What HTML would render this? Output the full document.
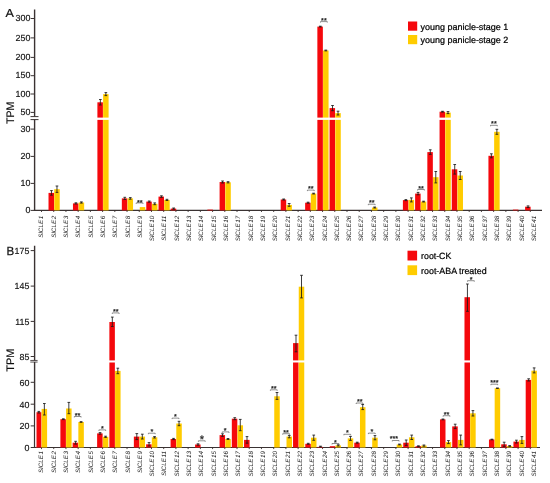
<!DOCTYPE html>
<html><head><meta charset="utf-8"><title>Figure</title>
<style>html,body{margin:0;padding:0;background:#fff}svg{display:block;font-family:"Liberation Sans",sans-serif;text-rendering:geometricPrecision}</style>
</head><body>
<svg width="550" height="483" viewBox="0 0 550 483">
<rect width="550" height="483" fill="#fff"/>
<path d="M34.6 9.5V116.6M34.6 119.6V210.9" stroke="#3a3232" stroke-width="1.4" fill="none"/>
<path d="M30.5 116.6H38.5M30.5 119.6H38.5" stroke="#3a3232" stroke-width="1" fill="none"/>
<path d="M33.8 210.4H542" stroke="#3a3232" stroke-width="1.1" fill="none"/>
<path d="M30.7 18.5H34" stroke="#3a3232" stroke-width="1"/>
<text x="30.4" y="21.1" font-size="8.9" text-anchor="end" fill="#111" stroke="#111" stroke-width="0.15">300</text>
<path d="M30.7 37.9H34" stroke="#3a3232" stroke-width="1"/>
<text x="30.4" y="40.5" font-size="8.9" text-anchor="end" fill="#111" stroke="#111" stroke-width="0.15">250</text>
<path d="M30.7 57.4H34" stroke="#3a3232" stroke-width="1"/>
<text x="30.4" y="60.0" font-size="8.9" text-anchor="end" fill="#111" stroke="#111" stroke-width="0.15">200</text>
<path d="M30.7 75.7H34" stroke="#3a3232" stroke-width="1"/>
<text x="30.4" y="78.3" font-size="8.9" text-anchor="end" fill="#111" stroke="#111" stroke-width="0.15">150</text>
<path d="M30.7 94.0H34" stroke="#3a3232" stroke-width="1"/>
<text x="30.4" y="96.6" font-size="8.9" text-anchor="end" fill="#111" stroke="#111" stroke-width="0.15">100</text>
<path d="M30.7 112.4H34" stroke="#3a3232" stroke-width="1"/>
<text x="30.4" y="115.0" font-size="8.9" text-anchor="end" fill="#111" stroke="#111" stroke-width="0.15">50</text>
<path d="M30.7 129.1H34" stroke="#3a3232" stroke-width="1"/>
<text x="30.4" y="131.7" font-size="8.9" text-anchor="end" fill="#111" stroke="#111" stroke-width="0.15">30</text>
<path d="M30.7 156.4H34" stroke="#3a3232" stroke-width="1"/>
<text x="30.4" y="159.0" font-size="8.9" text-anchor="end" fill="#111" stroke="#111" stroke-width="0.15">20</text>
<path d="M30.7 183.4H34" stroke="#3a3232" stroke-width="1"/>
<text x="30.4" y="186.0" font-size="8.9" text-anchor="end" fill="#111" stroke="#111" stroke-width="0.15">10</text>
<path d="M30.7 210.4H34" stroke="#3a3232" stroke-width="1"/>
<text x="30.4" y="213.0" font-size="8.9" text-anchor="end" fill="#111" stroke="#111" stroke-width="0.15">0</text>
<path d="M41.50 210.4V212.0" stroke="#3a3232" stroke-width="0.9"/>
<path d="M53.72 210.4V212.0" stroke="#3a3232" stroke-width="0.9"/>
<path d="M65.94 210.4V212.0" stroke="#3a3232" stroke-width="0.9"/>
<path d="M78.16 210.4V212.0" stroke="#3a3232" stroke-width="0.9"/>
<path d="M90.38 210.4V212.0" stroke="#3a3232" stroke-width="0.9"/>
<path d="M102.60 210.4V212.0" stroke="#3a3232" stroke-width="0.9"/>
<path d="M114.82 210.4V212.0" stroke="#3a3232" stroke-width="0.9"/>
<path d="M127.04 210.4V212.0" stroke="#3a3232" stroke-width="0.9"/>
<path d="M139.26 210.4V212.0" stroke="#3a3232" stroke-width="0.9"/>
<path d="M151.48 210.4V212.0" stroke="#3a3232" stroke-width="0.9"/>
<path d="M163.70 210.4V212.0" stroke="#3a3232" stroke-width="0.9"/>
<path d="M175.92 210.4V212.0" stroke="#3a3232" stroke-width="0.9"/>
<path d="M188.14 210.4V212.0" stroke="#3a3232" stroke-width="0.9"/>
<path d="M200.36 210.4V212.0" stroke="#3a3232" stroke-width="0.9"/>
<path d="M212.58 210.4V212.0" stroke="#3a3232" stroke-width="0.9"/>
<path d="M224.80 210.4V212.0" stroke="#3a3232" stroke-width="0.9"/>
<path d="M237.02 210.4V212.0" stroke="#3a3232" stroke-width="0.9"/>
<path d="M249.24 210.4V212.0" stroke="#3a3232" stroke-width="0.9"/>
<path d="M261.46 210.4V212.0" stroke="#3a3232" stroke-width="0.9"/>
<path d="M273.68 210.4V212.0" stroke="#3a3232" stroke-width="0.9"/>
<path d="M285.90 210.4V212.0" stroke="#3a3232" stroke-width="0.9"/>
<path d="M298.12 210.4V212.0" stroke="#3a3232" stroke-width="0.9"/>
<path d="M310.34 210.4V212.0" stroke="#3a3232" stroke-width="0.9"/>
<path d="M322.56 210.4V212.0" stroke="#3a3232" stroke-width="0.9"/>
<path d="M334.78 210.4V212.0" stroke="#3a3232" stroke-width="0.9"/>
<path d="M347.00 210.4V212.0" stroke="#3a3232" stroke-width="0.9"/>
<path d="M359.22 210.4V212.0" stroke="#3a3232" stroke-width="0.9"/>
<path d="M371.44 210.4V212.0" stroke="#3a3232" stroke-width="0.9"/>
<path d="M383.66 210.4V212.0" stroke="#3a3232" stroke-width="0.9"/>
<path d="M395.88 210.4V212.0" stroke="#3a3232" stroke-width="0.9"/>
<path d="M408.10 210.4V212.0" stroke="#3a3232" stroke-width="0.9"/>
<path d="M420.32 210.4V212.0" stroke="#3a3232" stroke-width="0.9"/>
<path d="M432.54 210.4V212.0" stroke="#3a3232" stroke-width="0.9"/>
<path d="M444.76 210.4V212.0" stroke="#3a3232" stroke-width="0.9"/>
<path d="M456.98 210.4V212.0" stroke="#3a3232" stroke-width="0.9"/>
<path d="M469.20 210.4V212.0" stroke="#3a3232" stroke-width="0.9"/>
<path d="M481.42 210.4V212.0" stroke="#3a3232" stroke-width="0.9"/>
<path d="M493.64 210.4V212.0" stroke="#3a3232" stroke-width="0.9"/>
<path d="M505.86 210.4V212.0" stroke="#3a3232" stroke-width="0.9"/>
<path d="M518.08 210.4V212.0" stroke="#3a3232" stroke-width="0.9"/>
<path d="M530.30 210.4V212.0" stroke="#3a3232" stroke-width="0.9"/>
<rect x="48.52" y="192.90" width="5.5" height="17.50" fill="#f5080c"/>
<rect x="54.22" y="189.20" width="5.5" height="21.20" fill="#ffcc00"/>
<rect x="72.96" y="203.40" width="5.5" height="7.00" fill="#f5080c"/>
<rect x="78.66" y="202.50" width="5.5" height="7.90" fill="#ffcc00"/>
<rect x="97.40" y="102.30" width="5.5" height="15.30" fill="#f5080c"/>
<rect x="97.40" y="119.90" width="5.5" height="90.50" fill="#f5080c"/>
<rect x="103.10" y="94.10" width="5.5" height="23.50" fill="#ffcc00"/>
<rect x="103.10" y="119.90" width="5.5" height="90.50" fill="#ffcc00"/>
<rect x="121.84" y="198.40" width="5.5" height="12.00" fill="#f5080c"/>
<rect x="127.54" y="198.40" width="5.5" height="12.00" fill="#ffcc00"/>
<rect x="139.76" y="207.10" width="5.5" height="3.30" fill="#ffcc00"/>
<rect x="146.28" y="201.60" width="5.5" height="8.80" fill="#f5080c"/>
<rect x="151.98" y="203.80" width="5.5" height="6.60" fill="#ffcc00"/>
<rect x="158.50" y="196.60" width="5.5" height="13.80" fill="#f5080c"/>
<rect x="164.20" y="199.90" width="5.5" height="10.50" fill="#ffcc00"/>
<rect x="170.72" y="208.60" width="5.5" height="1.80" fill="#f5080c"/>
<rect x="207.38" y="209.60" width="5.5" height="0.80" fill="#f5080c"/>
<rect x="219.60" y="182.00" width="5.5" height="28.40" fill="#f5080c"/>
<rect x="225.30" y="182.30" width="5.5" height="28.10" fill="#ffcc00"/>
<rect x="280.70" y="199.50" width="5.5" height="10.90" fill="#f5080c"/>
<rect x="286.40" y="204.90" width="5.5" height="5.50" fill="#ffcc00"/>
<rect x="305.14" y="202.70" width="5.5" height="7.70" fill="#f5080c"/>
<rect x="310.84" y="193.60" width="5.5" height="16.80" fill="#ffcc00"/>
<rect x="317.36" y="26.60" width="5.5" height="91.00" fill="#f5080c"/>
<rect x="317.36" y="119.90" width="5.5" height="90.50" fill="#f5080c"/>
<rect x="323.06" y="50.50" width="5.5" height="67.10" fill="#ffcc00"/>
<rect x="323.06" y="119.90" width="5.5" height="90.50" fill="#ffcc00"/>
<rect x="329.58" y="108.10" width="5.5" height="9.50" fill="#f5080c"/>
<rect x="329.58" y="119.90" width="5.5" height="90.50" fill="#f5080c"/>
<rect x="335.28" y="113.10" width="5.5" height="4.50" fill="#ffcc00"/>
<rect x="335.28" y="119.90" width="5.5" height="90.50" fill="#ffcc00"/>
<rect x="371.94" y="207.50" width="5.5" height="2.90" fill="#ffcc00"/>
<rect x="402.90" y="200.10" width="5.5" height="10.30" fill="#f5080c"/>
<rect x="408.60" y="199.90" width="5.5" height="10.50" fill="#ffcc00"/>
<rect x="415.12" y="193.60" width="5.5" height="16.80" fill="#f5080c"/>
<rect x="420.82" y="201.60" width="5.5" height="8.80" fill="#ffcc00"/>
<rect x="427.34" y="152.10" width="5.5" height="58.30" fill="#f5080c"/>
<rect x="433.04" y="177.20" width="5.5" height="33.20" fill="#ffcc00"/>
<rect x="439.56" y="111.70" width="5.5" height="5.90" fill="#f5080c"/>
<rect x="439.56" y="119.90" width="5.5" height="90.50" fill="#f5080c"/>
<rect x="445.26" y="112.60" width="5.5" height="5.00" fill="#ffcc00"/>
<rect x="445.26" y="119.90" width="5.5" height="90.50" fill="#ffcc00"/>
<rect x="451.78" y="169.30" width="5.5" height="41.10" fill="#f5080c"/>
<rect x="457.48" y="175.50" width="5.5" height="34.90" fill="#ffcc00"/>
<rect x="488.44" y="155.80" width="5.5" height="54.60" fill="#f5080c"/>
<rect x="494.14" y="131.80" width="5.5" height="78.60" fill="#ffcc00"/>
<rect x="512.88" y="209.60" width="5.5" height="0.80" fill="#f5080c"/>
<rect x="525.10" y="206.70" width="5.5" height="3.70" fill="#f5080c"/>
<path d="M51.47 190.60V195.20M50.12 190.60H52.82M50.12 195.20H52.82" stroke="#1a1a1a" stroke-width="0.85" fill="none"/>
<path d="M56.97 186.00V192.40M55.62 186.00H58.32M55.62 192.40H58.32" stroke="#1a1a1a" stroke-width="0.85" fill="none"/>
<path d="M75.91 202.80V204.00M74.56 202.80H77.26M74.56 204.00H77.26" stroke="#1a1a1a" stroke-width="0.85" fill="none"/>
<path d="M81.41 201.90V203.10M80.06 201.90H82.76M80.06 203.10H82.76" stroke="#1a1a1a" stroke-width="0.85" fill="none"/>
<path d="M100.35 99.50V105.00M99.00 99.50H101.70M99.00 105.00H101.70" stroke="#1a1a1a" stroke-width="0.85" fill="none"/>
<path d="M105.85 92.60V95.60M104.50 92.60H107.20M104.50 95.60H107.20" stroke="#1a1a1a" stroke-width="0.85" fill="none"/>
<path d="M124.79 197.30V199.50M123.44 197.30H126.14M123.44 199.50H126.14" stroke="#1a1a1a" stroke-width="0.85" fill="none"/>
<path d="M130.29 197.60V199.20M128.94 197.60H131.64M128.94 199.20H131.64" stroke="#1a1a1a" stroke-width="0.85" fill="none"/>
<path d="M149.23 201.00V202.20M147.88 201.00H150.58M147.88 202.20H150.58" stroke="#1a1a1a" stroke-width="0.85" fill="none"/>
<path d="M154.73 202.90V204.70M153.38 202.90H156.08M153.38 204.70H156.08" stroke="#1a1a1a" stroke-width="0.85" fill="none"/>
<path d="M161.45 195.80V197.40M160.10 195.80H162.80M160.10 197.40H162.80" stroke="#1a1a1a" stroke-width="0.85" fill="none"/>
<path d="M166.95 199.30V200.50M165.60 199.30H168.30M165.60 200.50H168.30" stroke="#1a1a1a" stroke-width="0.85" fill="none"/>
<path d="M173.67 208.00V209.20M172.32 208.00H175.02M172.32 209.20H175.02" stroke="#1a1a1a" stroke-width="0.85" fill="none"/>
<path d="M222.55 181.00V183.00M221.20 181.00H223.90M221.20 183.00H223.90" stroke="#1a1a1a" stroke-width="0.85" fill="none"/>
<path d="M228.05 181.70V182.90M226.70 181.70H229.40M226.70 182.90H229.40" stroke="#1a1a1a" stroke-width="0.85" fill="none"/>
<path d="M283.65 199.00V200.00M282.30 199.00H285.00M282.30 200.00H285.00" stroke="#1a1a1a" stroke-width="0.85" fill="none"/>
<path d="M289.15 203.50V206.30M287.80 203.50H290.50M287.80 206.30H290.50" stroke="#1a1a1a" stroke-width="0.85" fill="none"/>
<path d="M308.09 202.20V203.20M306.74 202.20H309.44M306.74 203.20H309.44" stroke="#1a1a1a" stroke-width="0.85" fill="none"/>
<path d="M313.59 193.20V194.00M312.24 193.20H314.94M312.24 194.00H314.94" stroke="#1a1a1a" stroke-width="0.85" fill="none"/>
<path d="M320.31 26.20V27.00M318.96 26.20H321.66M318.96 27.00H321.66" stroke="#1a1a1a" stroke-width="0.85" fill="none"/>
<path d="M325.81 50.10V50.90M324.46 50.10H327.16M324.46 50.90H327.16" stroke="#1a1a1a" stroke-width="0.85" fill="none"/>
<path d="M332.53 105.50V110.70M331.18 105.50H333.88M331.18 110.70H333.88" stroke="#1a1a1a" stroke-width="0.85" fill="none"/>
<path d="M338.03 111.20V115.00M336.68 111.20H339.38M336.68 115.00H339.38" stroke="#1a1a1a" stroke-width="0.85" fill="none"/>
<path d="M374.69 207.00V208.00M373.34 207.00H376.04M373.34 208.00H376.04" stroke="#1a1a1a" stroke-width="0.85" fill="none"/>
<path d="M405.85 199.60V200.60M404.50 199.60H407.20M404.50 200.60H407.20" stroke="#1a1a1a" stroke-width="0.85" fill="none"/>
<path d="M411.35 197.90V201.90M410.00 197.90H412.70M410.00 201.90H412.70" stroke="#1a1a1a" stroke-width="0.85" fill="none"/>
<path d="M418.07 192.40V194.80M416.72 192.40H419.42M416.72 194.80H419.42" stroke="#1a1a1a" stroke-width="0.85" fill="none"/>
<path d="M423.57 201.20V202.00M422.22 201.20H424.92M422.22 202.00H424.92" stroke="#1a1a1a" stroke-width="0.85" fill="none"/>
<path d="M430.29 149.80V154.40M428.94 149.80H431.64M428.94 154.40H431.64" stroke="#1a1a1a" stroke-width="0.85" fill="none"/>
<path d="M435.79 171.50V182.90M434.44 171.50H437.14M434.44 182.90H437.14" stroke="#1a1a1a" stroke-width="0.85" fill="none"/>
<path d="M442.51 111.30V112.10M441.16 111.30H443.86M441.16 112.10H443.86" stroke="#1a1a1a" stroke-width="0.85" fill="none"/>
<path d="M448.01 111.60V113.60M446.66 111.60H449.36M446.66 113.60H449.36" stroke="#1a1a1a" stroke-width="0.85" fill="none"/>
<path d="M454.73 164.50V174.10M453.38 164.50H456.08M453.38 174.10H456.08" stroke="#1a1a1a" stroke-width="0.85" fill="none"/>
<path d="M460.23 171.50V179.50M458.88 171.50H461.58M458.88 179.50H461.58" stroke="#1a1a1a" stroke-width="0.85" fill="none"/>
<path d="M491.39 153.80V157.80M490.04 153.80H492.74M490.04 157.80H492.74" stroke="#1a1a1a" stroke-width="0.85" fill="none"/>
<path d="M496.89 129.30V134.30M495.54 129.30H498.24M495.54 134.30H498.24" stroke="#1a1a1a" stroke-width="0.85" fill="none"/>
<path d="M528.05 205.90V207.50M526.70 205.90H529.40M526.70 207.50H529.40" stroke="#1a1a1a" stroke-width="0.85" fill="none"/>
<path d="M136.20 203.90V202.90H143.00V203.90" stroke="#444" stroke-width="0.6" fill="none"/>
<text x="139.80" y="204.58" font-size="7.2" text-anchor="middle" fill="#222" stroke="#222" stroke-width="0.25">**</text>
<path d="M307.40 191.10V190.10H314.20V191.10" stroke="#444" stroke-width="0.6" fill="none"/>
<text x="310.80" y="191.38" font-size="7.2" text-anchor="middle" fill="#222" stroke="#222" stroke-width="0.25">**</text>
<path d="M320.50 22.60V21.60H327.30V22.60" stroke="#444" stroke-width="0.6" fill="none"/>
<text x="323.90" y="22.78" font-size="7.2" text-anchor="middle" fill="#222" stroke="#222" stroke-width="0.25">**</text>
<path d="M368.30 205.20V204.20H375.10V205.20" stroke="#444" stroke-width="0.6" fill="none"/>
<text x="371.70" y="205.38" font-size="7.2" text-anchor="middle" fill="#222" stroke="#222" stroke-width="0.25">**</text>
<path d="M417.60 190.50V189.50H424.40V190.50" stroke="#444" stroke-width="0.6" fill="none"/>
<text x="421.00" y="190.68" font-size="7.2" text-anchor="middle" fill="#222" stroke="#222" stroke-width="0.25">**</text>
<path d="M490.50 126.30V125.30H497.30V126.30" stroke="#444" stroke-width="0.6" fill="none"/>
<text x="493.90" y="126.18" font-size="7.2" text-anchor="middle" fill="#222" stroke="#222" stroke-width="0.25">**</text>
<text transform="translate(43.30 215.7) rotate(-90)" font-size="6.3" font-style="italic" text-anchor="end" fill="#222">SlCLE<tspan dx="0.7">1</tspan></text>
<text transform="translate(55.61 215.7) rotate(-90)" font-size="6.3" font-style="italic" text-anchor="end" fill="#222">SlCLE<tspan dx="0.7">2</tspan></text>
<text transform="translate(67.93 215.7) rotate(-90)" font-size="6.3" font-style="italic" text-anchor="end" fill="#222">SlCLE<tspan dx="0.7">3</tspan></text>
<text transform="translate(80.25 215.7) rotate(-90)" font-size="6.3" font-style="italic" text-anchor="end" fill="#222">SlCLE<tspan dx="0.7">4</tspan></text>
<text transform="translate(92.56 215.7) rotate(-90)" font-size="6.3" font-style="italic" text-anchor="end" fill="#222">SlCLE<tspan dx="0.7">5</tspan></text>
<text transform="translate(104.88 215.7) rotate(-90)" font-size="6.3" font-style="italic" text-anchor="end" fill="#222">SlCLE<tspan dx="0.7">6</tspan></text>
<text transform="translate(117.19 215.7) rotate(-90)" font-size="6.3" font-style="italic" text-anchor="end" fill="#222">SlCLE<tspan dx="0.7">7</tspan></text>
<text transform="translate(129.50 215.7) rotate(-90)" font-size="6.3" font-style="italic" text-anchor="end" fill="#222">SlCLE<tspan dx="0.7">8</tspan></text>
<text transform="translate(141.82 215.7) rotate(-90)" font-size="6.3" font-style="italic" text-anchor="end" fill="#222">SlCLE<tspan dx="0.7">9</tspan></text>
<text transform="translate(154.13 215.7) rotate(-90)" font-size="6.3" font-style="italic" text-anchor="end" fill="#222">SlCLE<tspan dx="0.7">10</tspan></text>
<text transform="translate(166.45 215.7) rotate(-90)" font-size="6.3" font-style="italic" text-anchor="end" fill="#222">SlCLE<tspan dx="0.7">11</tspan></text>
<text transform="translate(178.76 215.7) rotate(-90)" font-size="6.3" font-style="italic" text-anchor="end" fill="#222">SlCLE<tspan dx="0.7">12</tspan></text>
<text transform="translate(191.08 215.7) rotate(-90)" font-size="6.3" font-style="italic" text-anchor="end" fill="#222">SlCLE<tspan dx="0.7">13</tspan></text>
<text transform="translate(203.39 215.7) rotate(-90)" font-size="6.3" font-style="italic" text-anchor="end" fill="#222">SlCLE<tspan dx="0.7">14</tspan></text>
<text transform="translate(215.71 215.7) rotate(-90)" font-size="6.3" font-style="italic" text-anchor="end" fill="#222">SlCLE<tspan dx="0.7">15</tspan></text>
<text transform="translate(228.02 215.7) rotate(-90)" font-size="6.3" font-style="italic" text-anchor="end" fill="#222">SlCLE<tspan dx="0.7">16</tspan></text>
<text transform="translate(240.34 215.7) rotate(-90)" font-size="6.3" font-style="italic" text-anchor="end" fill="#222">SlCLE<tspan dx="0.7">17</tspan></text>
<text transform="translate(252.65 215.7) rotate(-90)" font-size="6.3" font-style="italic" text-anchor="end" fill="#222">SlCLE<tspan dx="0.7">18</tspan></text>
<text transform="translate(264.97 215.7) rotate(-90)" font-size="6.3" font-style="italic" text-anchor="end" fill="#222">SlCLE<tspan dx="0.7">19</tspan></text>
<text transform="translate(277.28 215.7) rotate(-90)" font-size="6.3" font-style="italic" text-anchor="end" fill="#222">SlCLE<tspan dx="0.7">20</tspan></text>
<text transform="translate(289.60 215.7) rotate(-90)" font-size="6.3" font-style="italic" text-anchor="end" fill="#222">SlCLE<tspan dx="0.7">21</tspan></text>
<text transform="translate(301.92 215.7) rotate(-90)" font-size="6.3" font-style="italic" text-anchor="end" fill="#222">SlCLE<tspan dx="0.7">22</tspan></text>
<text transform="translate(314.23 215.7) rotate(-90)" font-size="6.3" font-style="italic" text-anchor="end" fill="#222">SlCLE<tspan dx="0.7">23</tspan></text>
<text transform="translate(326.55 215.7) rotate(-90)" font-size="6.3" font-style="italic" text-anchor="end" fill="#222">SlCLE<tspan dx="0.7">24</tspan></text>
<text transform="translate(338.86 215.7) rotate(-90)" font-size="6.3" font-style="italic" text-anchor="end" fill="#222">SlCLE<tspan dx="0.7">25</tspan></text>
<text transform="translate(351.18 215.7) rotate(-90)" font-size="6.3" font-style="italic" text-anchor="end" fill="#222">SlCLE<tspan dx="0.7">26</tspan></text>
<text transform="translate(363.49 215.7) rotate(-90)" font-size="6.3" font-style="italic" text-anchor="end" fill="#222">SlCLE<tspan dx="0.7">27</tspan></text>
<text transform="translate(375.81 215.7) rotate(-90)" font-size="6.3" font-style="italic" text-anchor="end" fill="#222">SlCLE<tspan dx="0.7">28</tspan></text>
<text transform="translate(388.12 215.7) rotate(-90)" font-size="6.3" font-style="italic" text-anchor="end" fill="#222">SlCLE<tspan dx="0.7">29</tspan></text>
<text transform="translate(400.44 215.7) rotate(-90)" font-size="6.3" font-style="italic" text-anchor="end" fill="#222">SlCLE<tspan dx="0.7">30</tspan></text>
<text transform="translate(412.75 215.7) rotate(-90)" font-size="6.3" font-style="italic" text-anchor="end" fill="#222">SlCLE<tspan dx="0.7">31</tspan></text>
<text transform="translate(425.06 215.7) rotate(-90)" font-size="6.3" font-style="italic" text-anchor="end" fill="#222">SlCLE<tspan dx="0.7">32</tspan></text>
<text transform="translate(437.38 215.7) rotate(-90)" font-size="6.3" font-style="italic" text-anchor="end" fill="#222">SlCLE<tspan dx="0.7">33</tspan></text>
<text transform="translate(449.69 215.7) rotate(-90)" font-size="6.3" font-style="italic" text-anchor="end" fill="#222">SlCLE<tspan dx="0.7">34</tspan></text>
<text transform="translate(462.01 215.7) rotate(-90)" font-size="6.3" font-style="italic" text-anchor="end" fill="#222">SlCLE<tspan dx="0.7">35</tspan></text>
<text transform="translate(474.32 215.7) rotate(-90)" font-size="6.3" font-style="italic" text-anchor="end" fill="#222">SlCLE<tspan dx="0.7">36</tspan></text>
<text transform="translate(486.64 215.7) rotate(-90)" font-size="6.3" font-style="italic" text-anchor="end" fill="#222">SlCLE<tspan dx="0.7">37</tspan></text>
<text transform="translate(498.95 215.7) rotate(-90)" font-size="6.3" font-style="italic" text-anchor="end" fill="#222">SlCLE<tspan dx="0.7">38</tspan></text>
<text transform="translate(511.27 215.7) rotate(-90)" font-size="6.3" font-style="italic" text-anchor="end" fill="#222">SlCLE<tspan dx="0.7">39</tspan></text>
<text transform="translate(523.58 215.7) rotate(-90)" font-size="6.3" font-style="italic" text-anchor="end" fill="#222">SlCLE<tspan dx="0.7">40</tspan></text>
<text transform="translate(535.90 215.7) rotate(-90)" font-size="6.3" font-style="italic" text-anchor="end" fill="#222">SlCLE<tspan dx="0.7">41</tspan></text>
<path d="M34.6 245.7V360.45M34.6 362.05V448.0" stroke="#3a3232" stroke-width="1.4" fill="none"/>
<path d="M30.3 360.45H37.6M30.3 362.05H37.6" stroke="#3a3232" stroke-width="0.85" fill="none"/>
<path d="M33.8 447.5H540" stroke="#3a3232" stroke-width="1.1" fill="none"/>
<path d="M30.7 250.6H34" stroke="#3a3232" stroke-width="1"/>
<text x="29.4" y="253.9" font-size="8.9" text-anchor="end" fill="#111" stroke="#111" stroke-width="0.15">175</text>
<path d="M30.7 286.1H34" stroke="#3a3232" stroke-width="1"/>
<text x="29.4" y="289.4" font-size="8.9" text-anchor="end" fill="#111" stroke="#111" stroke-width="0.15">145</text>
<path d="M30.7 321.4H34" stroke="#3a3232" stroke-width="1"/>
<text x="29.4" y="324.7" font-size="8.9" text-anchor="end" fill="#111" stroke="#111" stroke-width="0.15">115</text>
<path d="M30.7 356.5H34" stroke="#3a3232" stroke-width="1"/>
<text x="29.4" y="359.8" font-size="8.9" text-anchor="end" fill="#111" stroke="#111" stroke-width="0.15">85</text>
<path d="M30.7 382.3H34" stroke="#3a3232" stroke-width="1"/>
<text x="29.4" y="385.6" font-size="8.9" text-anchor="end" fill="#111" stroke="#111" stroke-width="0.15">60</text>
<path d="M30.7 404.2H34" stroke="#3a3232" stroke-width="1"/>
<text x="29.4" y="407.5" font-size="8.9" text-anchor="end" fill="#111" stroke="#111" stroke-width="0.15">40</text>
<path d="M30.7 425.9H34" stroke="#3a3232" stroke-width="1"/>
<text x="29.4" y="429.2" font-size="8.9" text-anchor="end" fill="#111" stroke="#111" stroke-width="0.15">20</text>
<path d="M30.7 447.5H34" stroke="#3a3232" stroke-width="1"/>
<text x="29.4" y="450.8" font-size="8.9" text-anchor="end" fill="#111" stroke="#111" stroke-width="0.15">0</text>
<path d="M41.50 447.5V449.1" stroke="#3a3232" stroke-width="0.9"/>
<path d="M53.72 447.5V449.1" stroke="#3a3232" stroke-width="0.9"/>
<path d="M65.94 447.5V449.1" stroke="#3a3232" stroke-width="0.9"/>
<path d="M78.16 447.5V449.1" stroke="#3a3232" stroke-width="0.9"/>
<path d="M90.38 447.5V449.1" stroke="#3a3232" stroke-width="0.9"/>
<path d="M102.60 447.5V449.1" stroke="#3a3232" stroke-width="0.9"/>
<path d="M114.82 447.5V449.1" stroke="#3a3232" stroke-width="0.9"/>
<path d="M127.04 447.5V449.1" stroke="#3a3232" stroke-width="0.9"/>
<path d="M139.26 447.5V449.1" stroke="#3a3232" stroke-width="0.9"/>
<path d="M151.48 447.5V449.1" stroke="#3a3232" stroke-width="0.9"/>
<path d="M163.70 447.5V449.1" stroke="#3a3232" stroke-width="0.9"/>
<path d="M175.92 447.5V449.1" stroke="#3a3232" stroke-width="0.9"/>
<path d="M188.14 447.5V449.1" stroke="#3a3232" stroke-width="0.9"/>
<path d="M200.36 447.5V449.1" stroke="#3a3232" stroke-width="0.9"/>
<path d="M212.58 447.5V449.1" stroke="#3a3232" stroke-width="0.9"/>
<path d="M224.80 447.5V449.1" stroke="#3a3232" stroke-width="0.9"/>
<path d="M237.02 447.5V449.1" stroke="#3a3232" stroke-width="0.9"/>
<path d="M249.24 447.5V449.1" stroke="#3a3232" stroke-width="0.9"/>
<path d="M261.46 447.5V449.1" stroke="#3a3232" stroke-width="0.9"/>
<path d="M273.68 447.5V449.1" stroke="#3a3232" stroke-width="0.9"/>
<path d="M285.90 447.5V449.1" stroke="#3a3232" stroke-width="0.9"/>
<path d="M298.12 447.5V449.1" stroke="#3a3232" stroke-width="0.9"/>
<path d="M310.34 447.5V449.1" stroke="#3a3232" stroke-width="0.9"/>
<path d="M322.56 447.5V449.1" stroke="#3a3232" stroke-width="0.9"/>
<path d="M334.78 447.5V449.1" stroke="#3a3232" stroke-width="0.9"/>
<path d="M347.00 447.5V449.1" stroke="#3a3232" stroke-width="0.9"/>
<path d="M359.22 447.5V449.1" stroke="#3a3232" stroke-width="0.9"/>
<path d="M371.44 447.5V449.1" stroke="#3a3232" stroke-width="0.9"/>
<path d="M383.66 447.5V449.1" stroke="#3a3232" stroke-width="0.9"/>
<path d="M395.88 447.5V449.1" stroke="#3a3232" stroke-width="0.9"/>
<path d="M408.10 447.5V449.1" stroke="#3a3232" stroke-width="0.9"/>
<path d="M420.32 447.5V449.1" stroke="#3a3232" stroke-width="0.9"/>
<path d="M432.54 447.5V449.1" stroke="#3a3232" stroke-width="0.9"/>
<path d="M444.76 447.5V449.1" stroke="#3a3232" stroke-width="0.9"/>
<path d="M456.98 447.5V449.1" stroke="#3a3232" stroke-width="0.9"/>
<path d="M469.20 447.5V449.1" stroke="#3a3232" stroke-width="0.9"/>
<path d="M481.42 447.5V449.1" stroke="#3a3232" stroke-width="0.9"/>
<path d="M493.64 447.5V449.1" stroke="#3a3232" stroke-width="0.9"/>
<path d="M505.86 447.5V449.1" stroke="#3a3232" stroke-width="0.9"/>
<path d="M518.08 447.5V449.1" stroke="#3a3232" stroke-width="0.9"/>
<path d="M530.30 447.5V449.1" stroke="#3a3232" stroke-width="0.9"/>
<rect x="35.90" y="412.20" width="5.5" height="35.30" fill="#f5080c"/>
<rect x="35.3" y="411.2" width="1.2" height="35.70000000000001" fill="#fff"/>
<rect x="41.60" y="408.90" width="5.5" height="38.60" fill="#ffcc00"/>
<rect x="60.39" y="419.20" width="5.5" height="28.30" fill="#f5080c"/>
<rect x="66.09" y="408.50" width="5.5" height="39.00" fill="#ffcc00"/>
<rect x="72.64" y="442.70" width="5.5" height="4.80" fill="#f5080c"/>
<rect x="78.34" y="422.00" width="5.5" height="25.50" fill="#ffcc00"/>
<rect x="97.12" y="433.40" width="5.5" height="14.10" fill="#f5080c"/>
<rect x="102.82" y="436.80" width="5.5" height="10.70" fill="#ffcc00"/>
<rect x="109.37" y="322.00" width="5.5" height="38.40" fill="#f5080c"/>
<rect x="109.37" y="362.50" width="5.5" height="85.00" fill="#f5080c"/>
<rect x="115.07" y="370.90" width="5.5" height="76.60" fill="#ffcc00"/>
<rect x="133.86" y="436.60" width="5.5" height="10.90" fill="#f5080c"/>
<rect x="139.56" y="436.60" width="5.5" height="10.90" fill="#ffcc00"/>
<rect x="146.11" y="444.30" width="5.5" height="3.20" fill="#f5080c"/>
<rect x="151.81" y="437.30" width="5.5" height="10.20" fill="#ffcc00"/>
<rect x="170.59" y="439.00" width="5.5" height="8.50" fill="#f5080c"/>
<rect x="176.29" y="423.50" width="5.5" height="24.00" fill="#ffcc00"/>
<rect x="195.09" y="444.50" width="5.5" height="3.00" fill="#f5080c"/>
<rect x="219.57" y="435.10" width="5.5" height="12.40" fill="#f5080c"/>
<rect x="225.27" y="439.00" width="5.5" height="8.50" fill="#ffcc00"/>
<rect x="231.82" y="418.70" width="5.5" height="28.80" fill="#f5080c"/>
<rect x="237.52" y="425.30" width="5.5" height="22.20" fill="#ffcc00"/>
<rect x="244.06" y="439.90" width="5.5" height="7.60" fill="#f5080c"/>
<rect x="274.25" y="396.30" width="5.5" height="51.20" fill="#ffcc00"/>
<rect x="286.50" y="436.60" width="5.5" height="10.90" fill="#ffcc00"/>
<rect x="293.05" y="343.10" width="5.5" height="17.30" fill="#f5080c"/>
<rect x="293.05" y="362.50" width="5.5" height="85.00" fill="#f5080c"/>
<rect x="298.75" y="286.70" width="5.5" height="73.70" fill="#ffcc00"/>
<rect x="298.75" y="362.50" width="5.5" height="85.00" fill="#ffcc00"/>
<rect x="305.29" y="443.80" width="5.5" height="3.70" fill="#f5080c"/>
<rect x="310.99" y="437.70" width="5.5" height="9.80" fill="#ffcc00"/>
<rect x="317.54" y="446.90" width="5.5" height="0.60" fill="#f5080c"/>
<rect x="329.78" y="446.20" width="5.5" height="1.30" fill="#f5080c"/>
<rect x="335.48" y="445.40" width="5.5" height="2.10" fill="#ffcc00"/>
<rect x="347.73" y="438.40" width="5.5" height="9.10" fill="#ffcc00"/>
<rect x="354.27" y="442.70" width="5.5" height="4.80" fill="#f5080c"/>
<rect x="359.97" y="407.20" width="5.5" height="40.30" fill="#ffcc00"/>
<rect x="372.21" y="437.70" width="5.5" height="9.80" fill="#ffcc00"/>
<rect x="396.70" y="444.50" width="5.5" height="3.00" fill="#ffcc00"/>
<rect x="403.25" y="442.70" width="5.5" height="4.80" fill="#f5080c"/>
<rect x="408.95" y="437.30" width="5.5" height="10.20" fill="#ffcc00"/>
<rect x="415.50" y="446.20" width="5.5" height="1.30" fill="#f5080c"/>
<rect x="421.19" y="445.60" width="5.5" height="1.90" fill="#ffcc00"/>
<rect x="439.99" y="419.40" width="5.5" height="28.10" fill="#f5080c"/>
<rect x="445.69" y="442.10" width="5.5" height="5.40" fill="#ffcc00"/>
<rect x="452.23" y="426.40" width="5.5" height="21.10" fill="#f5080c"/>
<rect x="457.93" y="439.90" width="5.5" height="7.60" fill="#ffcc00"/>
<rect x="464.48" y="297.20" width="5.5" height="63.20" fill="#f5080c"/>
<rect x="464.48" y="362.50" width="5.5" height="85.00" fill="#f5080c"/>
<rect x="470.18" y="413.30" width="5.5" height="34.20" fill="#ffcc00"/>
<rect x="488.97" y="439.50" width="5.5" height="8.00" fill="#f5080c"/>
<rect x="494.67" y="388.20" width="5.5" height="59.30" fill="#ffcc00"/>
<rect x="501.21" y="444.30" width="5.5" height="3.20" fill="#f5080c"/>
<rect x="506.91" y="446.00" width="5.5" height="1.50" fill="#ffcc00"/>
<rect x="513.45" y="441.60" width="5.5" height="5.90" fill="#f5080c"/>
<rect x="519.15" y="439.90" width="5.5" height="7.60" fill="#ffcc00"/>
<rect x="525.70" y="379.90" width="5.5" height="67.60" fill="#f5080c"/>
<rect x="531.40" y="370.70" width="5.5" height="76.80" fill="#ffcc00"/>
<path d="M38.85 411.40V413.00M37.50 411.40H40.20M37.50 413.00H40.20" stroke="#1a1a1a" stroke-width="0.85" fill="none"/>
<path d="M44.35 403.50V415.00M43.00 403.50H45.70M43.00 415.00H45.70" stroke="#1a1a1a" stroke-width="0.85" fill="none"/>
<path d="M63.34 418.80V419.60M61.99 418.80H64.69M61.99 419.60H64.69" stroke="#1a1a1a" stroke-width="0.85" fill="none"/>
<path d="M68.84 402.40V413.70M67.49 402.40H70.19M67.49 413.70H70.19" stroke="#1a1a1a" stroke-width="0.85" fill="none"/>
<path d="M75.59 441.30V444.10M74.24 441.30H76.94M74.24 444.10H76.94" stroke="#1a1a1a" stroke-width="0.85" fill="none"/>
<path d="M81.09 421.70V422.30M79.74 421.70H82.44M79.74 422.30H82.44" stroke="#1a1a1a" stroke-width="0.85" fill="none"/>
<path d="M100.07 432.60V434.20M98.72 432.60H101.42M98.72 434.20H101.42" stroke="#1a1a1a" stroke-width="0.85" fill="none"/>
<path d="M105.57 436.20V437.40M104.22 436.20H106.92M104.22 437.40H106.92" stroke="#1a1a1a" stroke-width="0.85" fill="none"/>
<path d="M112.32 317.10V326.50M110.97 317.10H113.67M110.97 326.50H113.67" stroke="#1a1a1a" stroke-width="0.85" fill="none"/>
<path d="M117.82 368.20V373.70M116.47 368.20H119.17M116.47 373.70H119.17" stroke="#1a1a1a" stroke-width="0.85" fill="none"/>
<path d="M136.81 433.60V439.60M135.46 433.60H138.16M135.46 439.60H138.16" stroke="#1a1a1a" stroke-width="0.85" fill="none"/>
<path d="M142.31 434.20V439.00M140.96 434.20H143.66M140.96 439.00H143.66" stroke="#1a1a1a" stroke-width="0.85" fill="none"/>
<path d="M149.06 442.60V446.00M147.71 442.60H150.41M147.71 446.00H150.41" stroke="#1a1a1a" stroke-width="0.85" fill="none"/>
<path d="M154.56 436.60V438.00M153.21 436.60H155.91M153.21 438.00H155.91" stroke="#1a1a1a" stroke-width="0.85" fill="none"/>
<path d="M173.54 438.40V439.60M172.19 438.40H174.89M172.19 439.60H174.89" stroke="#1a1a1a" stroke-width="0.85" fill="none"/>
<path d="M179.04 421.30V425.70M177.69 421.30H180.39M177.69 425.70H180.39" stroke="#1a1a1a" stroke-width="0.85" fill="none"/>
<path d="M198.03 443.80V445.20M196.69 443.80H199.38M196.69 445.20H199.38" stroke="#1a1a1a" stroke-width="0.85" fill="none"/>
<path d="M222.52 433.80V436.40M221.17 433.80H223.87M221.17 436.40H223.87" stroke="#1a1a1a" stroke-width="0.85" fill="none"/>
<path d="M228.02 438.50V439.50M226.67 438.50H229.37M226.67 439.50H229.37" stroke="#1a1a1a" stroke-width="0.85" fill="none"/>
<path d="M234.77 417.70V419.70M233.42 417.70H236.12M233.42 419.70H236.12" stroke="#1a1a1a" stroke-width="0.85" fill="none"/>
<path d="M240.27 419.40V430.70M238.92 419.40H241.62M238.92 430.70H241.62" stroke="#1a1a1a" stroke-width="0.85" fill="none"/>
<path d="M247.01 436.60V443.20M245.66 436.60H248.36M245.66 443.20H248.36" stroke="#1a1a1a" stroke-width="0.85" fill="none"/>
<path d="M277.00 392.50V399.40M275.65 392.50H278.36M275.65 399.40H278.36" stroke="#1a1a1a" stroke-width="0.85" fill="none"/>
<path d="M289.25 435.40V437.80M287.90 435.40H290.60M287.90 437.80H290.60" stroke="#1a1a1a" stroke-width="0.85" fill="none"/>
<path d="M296.00 335.20V351.80M294.64 335.20H297.35M294.64 351.80H297.35" stroke="#1a1a1a" stroke-width="0.85" fill="none"/>
<path d="M301.50 275.30V297.90M300.14 275.30H302.85M300.14 297.90H302.85" stroke="#1a1a1a" stroke-width="0.85" fill="none"/>
<path d="M308.24 443.30V444.30M306.89 443.30H309.59M306.89 444.30H309.59" stroke="#1a1a1a" stroke-width="0.85" fill="none"/>
<path d="M320.49 446.20V446.90M319.13 446.20H321.84M319.13 446.90H321.84" stroke="#1a1a1a" stroke-width="0.85" fill="none"/>
<path d="M313.74 435.10V440.30M312.39 435.10H315.09M312.39 440.30H315.09" stroke="#1a1a1a" stroke-width="0.85" fill="none"/>
<path d="M338.23 444.80V446.00M336.88 444.80H339.58M336.88 446.00H339.58" stroke="#1a1a1a" stroke-width="0.85" fill="none"/>
<path d="M350.48 436.40V440.40M349.12 436.40H351.83M349.12 440.40H351.83" stroke="#1a1a1a" stroke-width="0.85" fill="none"/>
<path d="M357.22 442.20V443.20M355.87 442.20H358.57M355.87 443.20H358.57" stroke="#1a1a1a" stroke-width="0.85" fill="none"/>
<path d="M362.72 404.50V409.60M361.37 404.50H364.07M361.37 409.60H364.07" stroke="#1a1a1a" stroke-width="0.85" fill="none"/>
<path d="M374.96 435.60V439.80M373.61 435.60H376.31M373.61 439.80H376.31" stroke="#1a1a1a" stroke-width="0.85" fill="none"/>
<path d="M399.45 444.10V444.90M398.10 444.10H400.81M398.10 444.90H400.81" stroke="#1a1a1a" stroke-width="0.85" fill="none"/>
<path d="M406.20 440.00V445.40M404.85 440.00H407.55M404.85 445.40H407.55" stroke="#1a1a1a" stroke-width="0.85" fill="none"/>
<path d="M411.70 435.10V439.50M410.35 435.10H413.05M410.35 439.50H413.05" stroke="#1a1a1a" stroke-width="0.85" fill="none"/>
<path d="M418.44 445.80V446.60M417.09 445.80H419.80M417.09 446.60H419.80" stroke="#1a1a1a" stroke-width="0.85" fill="none"/>
<path d="M423.94 445.00V446.20M422.59 445.00H425.30M422.59 446.20H425.30" stroke="#1a1a1a" stroke-width="0.85" fill="none"/>
<path d="M442.94 419.00V419.80M441.58 419.00H444.29M441.58 419.80H444.29" stroke="#1a1a1a" stroke-width="0.85" fill="none"/>
<path d="M448.44 440.60V443.60M447.08 440.60H449.79M447.08 443.60H449.79" stroke="#1a1a1a" stroke-width="0.85" fill="none"/>
<path d="M455.18 424.20V428.60M453.83 424.20H456.53M453.83 428.60H456.53" stroke="#1a1a1a" stroke-width="0.85" fill="none"/>
<path d="M460.68 435.10V444.90M459.33 435.10H462.03M459.33 444.90H462.03" stroke="#1a1a1a" stroke-width="0.85" fill="none"/>
<path d="M467.43 284.00V311.30M466.07 284.00H468.78M466.07 311.30H468.78" stroke="#1a1a1a" stroke-width="0.85" fill="none"/>
<path d="M472.93 410.60V416.00M471.57 410.60H474.28M471.57 416.00H474.28" stroke="#1a1a1a" stroke-width="0.85" fill="none"/>
<path d="M491.92 439.20V439.80M490.56 439.20H493.27M490.56 439.80H493.27" stroke="#1a1a1a" stroke-width="0.85" fill="none"/>
<path d="M497.42 388.00V388.40M496.06 388.00H498.77M496.06 388.40H498.77" stroke="#1a1a1a" stroke-width="0.85" fill="none"/>
<path d="M504.16 442.20V446.40M502.81 442.20H505.51M502.81 446.40H505.51" stroke="#1a1a1a" stroke-width="0.85" fill="none"/>
<path d="M509.66 445.60V446.40M508.31 445.60H511.01M508.31 446.40H511.01" stroke="#1a1a1a" stroke-width="0.85" fill="none"/>
<path d="M516.40 440.20V443.00M515.05 440.20H517.75M515.05 443.00H517.75" stroke="#1a1a1a" stroke-width="0.85" fill="none"/>
<path d="M521.90 436.60V443.40M520.55 436.60H523.25M520.55 443.40H523.25" stroke="#1a1a1a" stroke-width="0.85" fill="none"/>
<path d="M528.65 378.80V381.00M527.30 378.80H530.00M527.30 381.00H530.00" stroke="#1a1a1a" stroke-width="0.85" fill="none"/>
<path d="M534.15 367.90V372.90M532.80 367.90H535.50M532.80 372.90H535.50" stroke="#1a1a1a" stroke-width="0.85" fill="none"/>
<path d="M74.30 417.50V416.50H81.10V417.50" stroke="#444" stroke-width="0.6" fill="none"/>
<text x="77.50" y="418.08" font-size="7.2" text-anchor="middle" fill="#222" stroke="#222" stroke-width="0.25">**</text>
<path d="M98.90 430.90V429.90H105.70V430.90" stroke="#444" stroke-width="0.6" fill="none"/>
<text x="102.50" y="431.38" font-size="7.2" text-anchor="middle" fill="#222" stroke="#222" stroke-width="0.25">*</text>
<path d="M112.30 313.90V312.90H119.10V313.90" stroke="#444" stroke-width="0.6" fill="none"/>
<text x="115.70" y="314.28" font-size="7.2" text-anchor="middle" fill="#222" stroke="#222" stroke-width="0.25">**</text>
<path d="M148.40 434.20V433.20H155.20V434.20" stroke="#444" stroke-width="0.6" fill="none"/>
<text x="152.00" y="433.88" font-size="7.2" text-anchor="middle" fill="#222" stroke="#222" stroke-width="0.25">*</text>
<path d="M172.10 419.10V418.10H178.90V419.10" stroke="#444" stroke-width="0.6" fill="none"/>
<text x="175.50" y="418.78" font-size="7.2" text-anchor="middle" fill="#222" stroke="#222" stroke-width="0.25">*</text>
<path d="M198.40 441.80V440.80H205.20V441.80" stroke="#444" stroke-width="0.6" fill="none"/>
<text x="202.00" y="443.00" font-size="11" text-anchor="middle" fill="#222" stroke="#222" stroke-width="0.25">*</text>
<path d="M222.20 432.90V431.90H229.00V432.90" stroke="#444" stroke-width="0.6" fill="none"/>
<text x="225.20" y="432.98" font-size="7.2" text-anchor="middle" fill="#222" stroke="#222" stroke-width="0.25">*</text>
<path d="M270.40 390.80V389.80H277.20V390.80" stroke="#444" stroke-width="0.6" fill="none"/>
<text x="273.80" y="390.98" font-size="7.2" text-anchor="middle" fill="#222" stroke="#222" stroke-width="0.25">**</text>
<path d="M282.70 434.70V433.70H289.50V434.70" stroke="#444" stroke-width="0.6" fill="none"/>
<text x="286.10" y="435.18" font-size="7.2" text-anchor="middle" fill="#222" stroke="#222" stroke-width="0.25">**</text>
<path d="M332.00 444.50V443.50H338.80V444.50" stroke="#444" stroke-width="0.6" fill="none"/>
<text x="335.40" y="444.68" font-size="7.2" text-anchor="middle" fill="#222" stroke="#222" stroke-width="0.25">*</text>
<path d="M343.85 435.30V434.30H350.65V435.30" stroke="#444" stroke-width="0.6" fill="none"/>
<text x="347.45" y="434.58" font-size="7.2" text-anchor="middle" fill="#222" stroke="#222" stroke-width="0.25">*</text>
<path d="M356.20 404.00V403.00H363.00V404.00" stroke="#444" stroke-width="0.6" fill="none"/>
<text x="359.80" y="404.28" font-size="7.2" text-anchor="middle" fill="#222" stroke="#222" stroke-width="0.25">**</text>
<path d="M368.40 434.10V433.10H375.20V434.10" stroke="#444" stroke-width="0.6" fill="none"/>
<text x="371.80" y="434.18" font-size="7.2" text-anchor="middle" fill="#222" stroke="#222" stroke-width="0.25">*</text>
<path d="M392.25 441.50V440.50H399.05V441.50" stroke="#444" stroke-width="0.6" fill="none"/>
<text x="393.95" y="440.78" font-size="7.2" text-anchor="middle" fill="#222" stroke="#222" stroke-width="0.25">***</text>
<path d="M443.10 416.70V415.70H449.90V416.70" stroke="#444" stroke-width="0.6" fill="none"/>
<text x="446.50" y="416.78" font-size="7.2" text-anchor="middle" fill="#222" stroke="#222" stroke-width="0.25">**</text>
<path d="M467.50 281.70V280.70H474.30V281.70" stroke="#444" stroke-width="0.6" fill="none"/>
<text x="471.10" y="281.78" font-size="7.2" text-anchor="middle" fill="#222" stroke="#222" stroke-width="0.25">*</text>
<path d="M490.90 385.20V384.20H497.70V385.20" stroke="#444" stroke-width="0.6" fill="none"/>
<text x="494.40" y="385.08" font-size="7.2" text-anchor="middle" fill="#222" stroke="#222" stroke-width="0.25">***</text>
<text transform="translate(43.30 450.9) rotate(-90)" font-size="6.3" font-style="italic" text-anchor="end" fill="#222">SlCLE<tspan dx="0.7">1</tspan></text>
<text transform="translate(55.61 450.9) rotate(-90)" font-size="6.3" font-style="italic" text-anchor="end" fill="#222">SlCLE<tspan dx="0.7">2</tspan></text>
<text transform="translate(67.93 450.9) rotate(-90)" font-size="6.3" font-style="italic" text-anchor="end" fill="#222">SlCLE<tspan dx="0.7">3</tspan></text>
<text transform="translate(80.25 450.9) rotate(-90)" font-size="6.3" font-style="italic" text-anchor="end" fill="#222">SlCLE<tspan dx="0.7">4</tspan></text>
<text transform="translate(92.56 450.9) rotate(-90)" font-size="6.3" font-style="italic" text-anchor="end" fill="#222">SlCLE<tspan dx="0.7">5</tspan></text>
<text transform="translate(104.88 450.9) rotate(-90)" font-size="6.3" font-style="italic" text-anchor="end" fill="#222">SlCLE<tspan dx="0.7">6</tspan></text>
<text transform="translate(117.19 450.9) rotate(-90)" font-size="6.3" font-style="italic" text-anchor="end" fill="#222">SlCLE<tspan dx="0.7">7</tspan></text>
<text transform="translate(129.50 450.9) rotate(-90)" font-size="6.3" font-style="italic" text-anchor="end" fill="#222">SlCLE<tspan dx="0.7">8</tspan></text>
<text transform="translate(141.82 450.9) rotate(-90)" font-size="6.3" font-style="italic" text-anchor="end" fill="#222">SlCLE<tspan dx="0.7">9</tspan></text>
<text transform="translate(154.13 450.9) rotate(-90)" font-size="6.3" font-style="italic" text-anchor="end" fill="#222">SlCLE<tspan dx="0.7">10</tspan></text>
<text transform="translate(166.45 450.9) rotate(-90)" font-size="6.3" font-style="italic" text-anchor="end" fill="#222">SlCLE<tspan dx="0.7">11</tspan></text>
<text transform="translate(178.76 450.9) rotate(-90)" font-size="6.3" font-style="italic" text-anchor="end" fill="#222">SlCLE<tspan dx="0.7">12</tspan></text>
<text transform="translate(191.08 450.9) rotate(-90)" font-size="6.3" font-style="italic" text-anchor="end" fill="#222">SlCLE<tspan dx="0.7">13</tspan></text>
<text transform="translate(203.39 450.9) rotate(-90)" font-size="6.3" font-style="italic" text-anchor="end" fill="#222">SlCLE<tspan dx="0.7">14</tspan></text>
<text transform="translate(215.71 450.9) rotate(-90)" font-size="6.3" font-style="italic" text-anchor="end" fill="#222">SlCLE<tspan dx="0.7">15</tspan></text>
<text transform="translate(228.02 450.9) rotate(-90)" font-size="6.3" font-style="italic" text-anchor="end" fill="#222">SlCLE<tspan dx="0.7">16</tspan></text>
<text transform="translate(240.34 450.9) rotate(-90)" font-size="6.3" font-style="italic" text-anchor="end" fill="#222">SlCLE<tspan dx="0.7">17</tspan></text>
<text transform="translate(252.65 450.9) rotate(-90)" font-size="6.3" font-style="italic" text-anchor="end" fill="#222">SlCLE<tspan dx="0.7">18</tspan></text>
<text transform="translate(264.97 450.9) rotate(-90)" font-size="6.3" font-style="italic" text-anchor="end" fill="#222">SlCLE<tspan dx="0.7">19</tspan></text>
<text transform="translate(277.28 450.9) rotate(-90)" font-size="6.3" font-style="italic" text-anchor="end" fill="#222">SlCLE<tspan dx="0.7">20</tspan></text>
<text transform="translate(289.60 450.9) rotate(-90)" font-size="6.3" font-style="italic" text-anchor="end" fill="#222">SlCLE<tspan dx="0.7">21</tspan></text>
<text transform="translate(301.92 450.9) rotate(-90)" font-size="6.3" font-style="italic" text-anchor="end" fill="#222">SlCLE<tspan dx="0.7">22</tspan></text>
<text transform="translate(314.23 450.9) rotate(-90)" font-size="6.3" font-style="italic" text-anchor="end" fill="#222">SlCLE<tspan dx="0.7">23</tspan></text>
<text transform="translate(326.55 450.9) rotate(-90)" font-size="6.3" font-style="italic" text-anchor="end" fill="#222">SlCLE<tspan dx="0.7">24</tspan></text>
<text transform="translate(338.86 450.9) rotate(-90)" font-size="6.3" font-style="italic" text-anchor="end" fill="#222">SlCLE<tspan dx="0.7">25</tspan></text>
<text transform="translate(351.18 450.9) rotate(-90)" font-size="6.3" font-style="italic" text-anchor="end" fill="#222">SlCLE<tspan dx="0.7">26</tspan></text>
<text transform="translate(363.49 450.9) rotate(-90)" font-size="6.3" font-style="italic" text-anchor="end" fill="#222">SlCLE<tspan dx="0.7">27</tspan></text>
<text transform="translate(375.81 450.9) rotate(-90)" font-size="6.3" font-style="italic" text-anchor="end" fill="#222">SlCLE<tspan dx="0.7">28</tspan></text>
<text transform="translate(388.12 450.9) rotate(-90)" font-size="6.3" font-style="italic" text-anchor="end" fill="#222">SlCLE<tspan dx="0.7">29</tspan></text>
<text transform="translate(400.44 450.9) rotate(-90)" font-size="6.3" font-style="italic" text-anchor="end" fill="#222">SlCLE<tspan dx="0.7">30</tspan></text>
<text transform="translate(412.75 450.9) rotate(-90)" font-size="6.3" font-style="italic" text-anchor="end" fill="#222">SlCLE<tspan dx="0.7">31</tspan></text>
<text transform="translate(425.06 450.9) rotate(-90)" font-size="6.3" font-style="italic" text-anchor="end" fill="#222">SlCLE<tspan dx="0.7">32</tspan></text>
<text transform="translate(437.38 450.9) rotate(-90)" font-size="6.3" font-style="italic" text-anchor="end" fill="#222">SlCLE<tspan dx="0.7">33</tspan></text>
<text transform="translate(449.69 450.9) rotate(-90)" font-size="6.3" font-style="italic" text-anchor="end" fill="#222">SlCLE<tspan dx="0.7">34</tspan></text>
<text transform="translate(462.01 450.9) rotate(-90)" font-size="6.3" font-style="italic" text-anchor="end" fill="#222">SlCLE<tspan dx="0.7">35</tspan></text>
<text transform="translate(474.32 450.9) rotate(-90)" font-size="6.3" font-style="italic" text-anchor="end" fill="#222">SlCLE<tspan dx="0.7">36</tspan></text>
<text transform="translate(486.64 450.9) rotate(-90)" font-size="6.3" font-style="italic" text-anchor="end" fill="#222">SlCLE<tspan dx="0.7">37</tspan></text>
<text transform="translate(498.95 450.9) rotate(-90)" font-size="6.3" font-style="italic" text-anchor="end" fill="#222">SlCLE<tspan dx="0.7">38</tspan></text>
<text transform="translate(511.27 450.9) rotate(-90)" font-size="6.3" font-style="italic" text-anchor="end" fill="#222">SlCLE<tspan dx="0.7">39</tspan></text>
<text transform="translate(523.58 450.9) rotate(-90)" font-size="6.3" font-style="italic" text-anchor="end" fill="#222">SlCLE<tspan dx="0.7">40</tspan></text>
<text transform="translate(535.90 450.9) rotate(-90)" font-size="6.3" font-style="italic" text-anchor="end" fill="#222">SlCLE<tspan dx="0.7">41</tspan></text>
<rect x="408" y="21.5" width="9.2" height="9.2" fill="#f5080c"/><rect x="408" y="35" width="9.2" height="9.2" fill="#ffcc00"/>
<text x="420.5" y="29.7" font-size="9" textLength="87.8" lengthAdjust="spacingAndGlyphs" fill="#000" stroke="#000" stroke-width="0.22">young panicle-stage 1</text>
<text x="420.5" y="42.8" font-size="9" textLength="87.8" lengthAdjust="spacingAndGlyphs" fill="#000" stroke="#000" stroke-width="0.22">young panicle-stage 2</text>
<rect x="407.5" y="250.7" width="9.6" height="9.8" fill="#f5080c"/><rect x="407.5" y="265.3" width="9.6" height="9.8" fill="#ffcc00"/>
<text x="421.1" y="258.7" font-size="9" textLength="30.2" lengthAdjust="spacingAndGlyphs" fill="#000" stroke="#000" stroke-width="0.22">root-CK</text>
<text x="421.1" y="273.6" font-size="9" textLength="65.5" lengthAdjust="spacingAndGlyphs" fill="#000" stroke="#000" stroke-width="0.22">root-ABA treated</text>
<text x="5.6" y="16.5" font-size="11.6" textLength="8.4" lengthAdjust="spacingAndGlyphs" fill="#111" stroke="#111" stroke-width="0.2">A</text>
<text x="6.4" y="255.4" font-size="11.8" textLength="7.7" lengthAdjust="spacingAndGlyphs" fill="#111" stroke="#111" stroke-width="0.25">B</text>
<text transform="translate(14.1 124.0) rotate(-90)" font-size="10.9" textLength="22.2" lengthAdjust="spacingAndGlyphs" fill="#111" stroke="#111" stroke-width="0.15">TPM</text>
<text transform="translate(14.1 371.7) rotate(-90)" font-size="10.9" textLength="23.0" lengthAdjust="spacingAndGlyphs" fill="#111" stroke="#111" stroke-width="0.15">TPM</text>
</svg>
</body></html>
